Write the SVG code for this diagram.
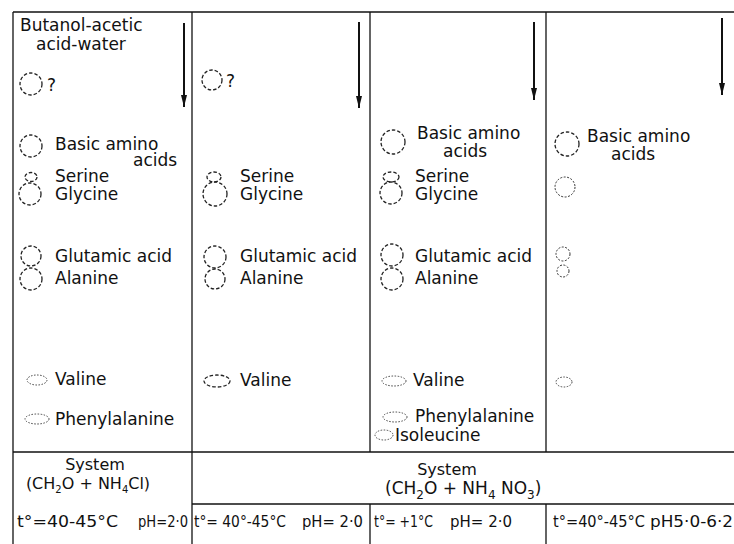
<svg xmlns="http://www.w3.org/2000/svg" width="734" height="544" viewBox="0 0 734 544">
<defs>
<style>
.t{font-family:"DejaVu Sans",sans-serif;font-size:17px;fill:#111}
.s{font-family:"DejaVu Sans",sans-serif;font-size:16px;fill:#111}
.c{fill:none;stroke:#222;stroke-width:1.3;stroke-dasharray:3.5 2}
.d{fill:none;stroke:#333;stroke-width:1;stroke-dasharray:2 1.5}
.b{fill:none;stroke:#444;stroke-width:1;stroke-dasharray:1.5 1.5}
.ln{stroke:#111;stroke-width:1.3;fill:none}
.ar{stroke:#111;stroke-width:2;fill:none}
</style>
<marker id="ah" viewBox="0 0 12 6" refX="12" refY="3" markerWidth="12" markerHeight="6" markerUnits="userSpaceOnUse" orient="auto">
<path d="M0,0 L12,3 L0,6 z" fill="#111"/>
</marker>
</defs>
<rect width="734" height="544" fill="#fff"/>

<g id="grid">
<line class="ln" x1="13" y1="12" x2="734" y2="12"/>
<line class="ln" x1="13" y1="12" x2="13" y2="544"/>
<line class="ln" x1="192" y1="12" x2="192" y2="544"/>
<line class="ln" x1="370" y1="12" x2="370" y2="452"/>
<line class="ln" x1="370" y1="504" x2="370" y2="544"/>
<line class="ln" x1="546" y1="12" x2="546" y2="452"/>
<line class="ln" x1="546" y1="504" x2="546" y2="544"/>
<line class="ln" x1="13" y1="452" x2="734" y2="452"/>
<line class="ln" x1="192" y1="504" x2="734" y2="504"/>
</g>

<g id="connectors">
<line class="ar" x1="184" y1="23" x2="184" y2="107" marker-end="url(#ah)"/>
<line class="ar" x1="359" y1="22" x2="359" y2="108" marker-end="url(#ah)"/>
<line class="ar" x1="534" y1="22" x2="534" y2="100" marker-end="url(#ah)"/>
<line class="ar" x1="722" y1="18" x2="722" y2="95" marker-end="url(#ah)"/>
</g>

<g id="solvent">
<text class="t" x="20" y="31">Butanol-acetic</text>
<text class="t" x="36" y="50">acid-water</text>
</g>

<!-- Column 1 -->
<g id="c1-unknown"><circle class="c" cx="31" cy="84" r="11"/><text class="t" x="47" y="91">?</text></g>
<g id="c1-basic"><circle class="c" cx="31" cy="146" r="11"/><text class="t" x="55" y="150">Basic amino</text><text class="t" x="133" y="166">acids</text></g>
<g id="c1-serine"><ellipse class="c" cx="31" cy="177" rx="6" ry="4.5"/><text class="t" x="55" y="182">Serine</text></g>
<g id="c1-glycine"><circle class="c" cx="30" cy="194" r="11"/><text class="t" x="55" y="200">Glycine</text></g>
<g id="c1-glutamic"><circle class="c" cx="31" cy="256" r="10"/><text class="t" x="55" y="262">Glutamic acid</text></g>
<g id="c1-alanine"><circle class="c" cx="31" cy="279" r="11"/><text class="t" x="55" y="284">Alanine</text></g>
<g id="c1-valine"><ellipse class="b" cx="37" cy="380" rx="10" ry="5"/><text class="t" x="55" y="385">Valine</text></g>
<g id="c1-phenylalanine"><ellipse class="b" cx="37" cy="419" rx="12" ry="5"/><text class="t" x="55" y="425">Phenylalanine</text></g>

<!-- Column 2 -->
<g id="c2-unknown"><circle class="c" cx="212" cy="80" r="10"/><text class="t" x="226" y="87">?</text></g>
<g id="c2-serine"><ellipse class="c" cx="214" cy="177" rx="7" ry="5"/><text class="t" x="240" y="182">Serine</text></g>
<g id="c2-glycine"><circle class="c" cx="215" cy="194" r="12"/><text class="t" x="240" y="200">Glycine</text></g>
<g id="c2-glutamic"><circle class="c" cx="215" cy="257" r="11"/><text class="t" x="240" y="262">Glutamic acid</text></g>
<g id="c2-alanine"><circle class="c" cx="215" cy="279" r="10"/><text class="t" x="240" y="284">Alanine</text></g>
<g id="c2-valine"><ellipse class="c" cx="217" cy="381" rx="13" ry="6"/><text class="t" x="240" y="386">Valine</text></g>

<!-- Column 3 -->
<g id="c3-basic"><circle class="c" cx="393" cy="142" r="12"/><text class="t" x="417" y="139">Basic amino</text><text class="t" x="443" y="157">acids</text></g>
<g id="c3-serine"><ellipse class="c" cx="391" cy="177" rx="8" ry="5"/><text class="t" x="415" y="182">Serine</text></g>
<g id="c3-glycine"><circle class="c" cx="391" cy="193" r="11"/><text class="t" x="415" y="200">Glycine</text></g>
<g id="c3-glutamic"><circle class="c" cx="392" cy="255" r="11"/><text class="t" x="415" y="262">Glutamic acid</text></g>
<g id="c3-alanine"><circle class="c" cx="392" cy="279" r="11"/><text class="t" x="415" y="284">Alanine</text></g>
<g id="c3-valine"><ellipse class="b" cx="394" cy="381" rx="12" ry="5"/><text class="t" x="413" y="386">Valine</text></g>
<g id="c3-phenylalanine"><ellipse class="b" cx="395" cy="417" rx="12" ry="5"/><text class="t" x="415" y="422">Phenylalanine</text></g>
<g id="c3-isoleucine"><ellipse class="b" cx="384" cy="435" rx="9" ry="5"/><text class="t" x="395" y="441">Isoleucine</text></g>

<!-- Column 4 -->
<g id="c4-basic"><circle class="c" cx="567" cy="144" r="12"/><text class="t" x="587" y="142">Basic amino</text><text class="t" x="611" y="160">acids</text></g>
<g id="c4-spot1"><circle class="d" cx="565" cy="187" r="10"/></g>
<g id="c4-spot2"><circle class="d" cx="563" cy="254" r="7"/></g>
<g id="c4-spot3"><circle class="d" cx="563" cy="271" r="6"/></g>
<g id="c4-spot4"><ellipse class="b" cx="564" cy="382" rx="8" ry="5"/></g>

<!-- Table -->
<g id="sys1">
<text class="s" x="95" y="470" text-anchor="middle">System</text>
<text class="s" x="88" y="489" font-size="14" text-anchor="middle">(CH<tspan font-size="10" dy="4">2</tspan><tspan dy="-4">O + NH</tspan><tspan font-size="10" dy="4">4</tspan><tspan dy="-4">Cl)</tspan></text>
</g>
<g id="sys2">
<text class="s" x="447" y="475" text-anchor="middle">System</text>
<text class="t" x="385" y="494">(CH<tspan font-size="12" dy="5">2</tspan><tspan dy="-5">O + NH</tspan><tspan font-size="12" dy="5">4</tspan><tspan dy="-5"> NO</tspan><tspan font-size="12" dy="5">3</tspan><tspan dy="-5">)</tspan></text>
</g>
<g id="cond1">
<text class="s" x="17" y="527" textLength="101" lengthAdjust="spacingAndGlyphs">t°=40-45°C</text>
<text class="s" x="138" y="527" textLength="50" lengthAdjust="spacingAndGlyphs">pH=2·0</text>
</g>
<g id="cond2">
<text class="s" x="194" y="527" textLength="92" lengthAdjust="spacingAndGlyphs">t°= 40°-45°C</text>
<text class="s" x="302" y="527" textLength="61" lengthAdjust="spacingAndGlyphs">pH= 2·0</text>
</g>
<g id="cond3">
<text class="s" x="374" y="527" textLength="59" lengthAdjust="spacingAndGlyphs">t°= +1°C</text>
<text class="s" x="450" y="527" textLength="62" lengthAdjust="spacingAndGlyphs">pH= 2·0</text>
</g>
<g id="cond4">
<text class="s" x="553" y="527" textLength="92" lengthAdjust="spacingAndGlyphs">t°=40°-45°C</text>
<text class="s" x="650" y="527" textLength="83" lengthAdjust="spacingAndGlyphs">pH5·0-6·2</text>
</g>
</svg>
